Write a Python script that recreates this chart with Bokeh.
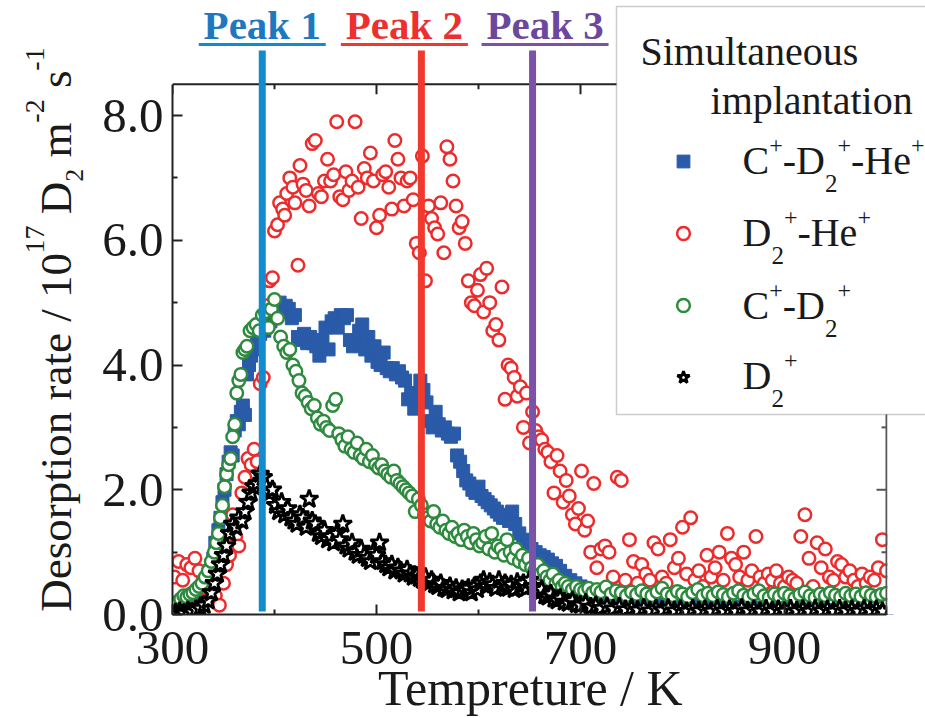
import math
from bokeh.plotting import figure
from bokeh.layouts import row
from bokeh.models import (FixedTicker, PrintfTickFormatter, Label, Range1d,
                          BoxAnnotation, Legend, LegendItem)
from bokeh.embed import file_html
from bokeh.resources import INLINE

# ---------------- data ----------------
# C+-D2+-He+ (blue squares)
T_A = [305, 310, 315, 320, 325, 330, 334, 337, 340, 342, 345, 347, 349, 351, 353, 355, 357, 359, 361, 363,
       365, 367, 369, 371, 373, 375, 377, 380, 383, 386, 390, 393, 396, 399, 402, 405, 408, 411, 414, 417,
       420, 423, 426, 429, 432, 435, 438, 441, 444, 447, 450, 453, 456, 459, 462, 465, 468, 471, 474, 477,
       480, 483, 486, 489, 492, 495, 498, 501, 504, 507, 510, 513, 516, 519, 522, 525, 528, 531, 534, 537,
       540, 543, 546, 549, 552, 555, 558, 561, 564, 567, 570, 573, 576, 579, 582, 585, 588, 591, 594, 597,
       600, 603, 606, 609, 612, 615, 618, 621, 624, 627, 630, 633, 636, 640, 644, 648, 652, 656, 660, 664,
       668, 672, 676, 680, 685, 690, 695, 700, 706, 712, 718, 724, 730, 738, 746, 754, 762, 770, 778, 786,
       794, 802, 810, 818, 826, 834, 842, 850, 858, 866, 874, 882, 890, 898, 906, 914, 922, 930, 938, 946,
       954, 962, 970, 978, 986, 994, 1000]
V_A = [0.05, 0.08, 0.06, 0.10, 0.12, 0.25, 0.45, 0.70, 0.90, 1.15, 1.35, 1.55, 1.80, 2.00, 2.25, 2.45, 2.60, 2.55, 2.95, 3.10,
       3.05, 3.25, 3.35, 3.20, 3.85, 4.00, 4.15, 4.25, 4.40, 4.50, 4.55, 4.65, 4.70, 4.80, 4.95, 5.00, 4.85, 4.95, 4.90, 4.75,
       4.80, 4.45, 4.40, 4.50, 4.35, 4.45, 4.35, 4.30, 4.15, 4.40, 4.60, 4.25, 4.70, 4.75, 4.60, 4.80, 4.75, 4.80, 4.40, 4.30,
       4.35, 4.55, 4.65, 4.25, 4.45, 4.15, 4.30, 4.05, 4.00, 4.20, 3.95, 3.90, 3.95, 3.85, 3.90, 3.80, 3.75, 3.45, 3.55, 3.30,
       3.40, 3.75, 3.60, 3.40, 3.10, 3.00, 3.25, 3.05, 2.95, 3.00, 2.90, 2.85, 2.90, 2.55, 2.45, 2.30, 2.15, 2.10, 2.00, 1.95,
       2.05, 1.90, 1.85, 1.80, 1.75, 1.70, 1.65, 1.60, 1.55, 1.55, 1.50, 1.65, 1.45, 1.30, 1.20, 1.10, 1.05, 1.00, 0.95, 0.92,
       0.88, 0.82, 0.78, 0.70, 0.62, 0.55, 0.50, 0.45, 0.40, 0.36, 0.32, 0.30, 0.28, 0.25, 0.24, 0.22, 0.20, 0.19, 0.18, 0.17,
       0.16, 0.15, 0.15, 0.14, 0.14, 0.13, 0.13, 0.12, 0.12, 0.11, 0.11, 0.10, 0.10, 0.10, 0.09, 0.09, 0.08, 0.08, 0.08, 0.07,
       0.07, 0.06, 0.06, 0.05, 0.05, 0.04, 0.03]

# D2+-He+ (red open circles)
T_B = [302, 306, 310, 314, 318, 322, 326, 330, 334, 338, 342, 346, 350, 353, 356, 359, 362, 365, 368, 371,
       374, 377, 380, 383, 386, 389, 392, 395, 398, 400, 403, 405, 408, 410, 412, 415, 418, 420, 423, 425,
       428, 431, 434, 437, 440, 443, 446, 449, 452, 455, 458, 461, 464, 467, 470, 473, 476, 479, 482, 485,
       488, 491, 494, 497, 500, 503, 506, 509, 512, 515, 518, 521, 524, 527, 530, 533, 536, 539, 542, 545,
       548, 551, 554, 557, 560, 563, 566, 569, 572, 575, 578, 581, 584, 587, 590, 593, 596, 599, 602, 605,
       608, 611, 614, 617, 620, 623, 626, 629, 632, 635, 638, 641, 644, 647, 650, 653, 656, 659, 662, 665,
       668, 671, 674, 677, 680, 683, 686, 689, 692, 695, 698, 701, 704, 707, 710, 713, 716, 720, 724, 728,
       732, 736, 740, 744, 748, 752, 756, 760, 764, 768, 772, 776, 780, 784, 788, 792, 796, 800, 804, 808,
       812, 816, 820, 824, 828, 832, 836, 840, 844, 848, 852, 856, 860, 864, 868, 872, 876, 880, 884, 888,
       892, 896, 900, 904, 908, 912, 916, 920, 924, 928, 932, 936, 940, 944, 948, 952, 956, 960, 964, 968,
       972, 976, 980, 984, 988, 992, 996, 1000]
V_B = [0.60, 0.85, 0.55, 0.80, 0.75, 0.90, 0.70, 0.55, 0.40, 0.35, 0.30, 0.15, 0.50, 0.80, 0.95, 1.60, 1.25, 1.10, 1.95, 2.20,
       2.50, 2.40, 2.65, 2.45, 3.70, 3.80, 4.95, 5.35, 5.40, 6.15, 6.25, 6.60, 6.50, 6.40, 6.75, 7.00, 6.85, 6.60, 5.60, 7.20,
       6.90, 6.80, 6.55, 7.55, 7.60, 6.75, 6.70, 6.95, 7.30, 6.95, 7.05, 7.90, 6.70, 6.65, 7.10, 6.80, 6.95, 7.90, 6.85, 6.35,
       7.15, 7.00, 7.40, 6.95, 6.20, 6.40, 7.05, 7.10, 6.85, 6.50, 7.60, 7.30, 7.00, 6.55, 6.95, 7.00, 6.65, 5.95, 5.80, 7.35,
       5.35, 6.55, 6.35, 6.20, 6.10, 6.60, 5.80, 7.50, 7.30, 6.95, 6.55, 6.20, 6.30, 5.95, 5.35, 5.00, 4.95, 5.20, 5.45, 4.85,
       5.55, 5.00, 4.55, 4.65, 4.40, 5.25, 3.45, 4.00, 3.95, 3.80, 3.50, 3.65, 3.00, 3.55, 2.75, 3.25, 2.95, 2.85, 2.80, 2.65,
       2.60, 2.45, 1.95, 2.55, 2.30, 1.80, 2.15, 1.90, 1.60, 1.45, 1.70, 2.30, 1.35, 1.50, 1.00, 2.10, 0.75, 1.05, 1.10, 1.00,
       0.60, 2.20, 2.15, 0.55, 1.20, 0.85, 0.50, 0.80, 0.65, 0.55, 1.15, 1.05, 0.60, 0.50, 1.20, 0.75, 0.90, 1.40, 0.65, 1.55,
       0.55, 0.70, 0.45, 0.95, 0.60, 0.75, 1.00, 0.55, 1.30, 0.90, 0.80, 0.60, 1.00, 0.55, 0.70, 1.25, 0.60, 0.50, 0.65, 0.55,
       0.70, 0.50, 0.45, 0.60, 0.55, 0.50, 1.25, 1.60, 0.90, 0.45, 1.15, 0.75, 1.05, 0.60, 0.55, 0.85, 0.80, 0.60, 0.70, 0.55,
       0.45, 0.65, 0.50, 0.60, 0.55, 0.75, 1.20, 0.70]

# C+-D2+ (green open circles)
T_C = [305, 308, 311, 314, 317, 320, 323, 326, 329, 332, 335, 338, 341, 343, 345, 347, 349, 351, 353, 355,
       357, 359, 361, 363, 365, 367, 369, 371, 373, 376, 379, 382, 385, 388, 391, 394, 397, 400, 403, 406,
       409, 412, 415, 418, 421, 424, 427, 430, 433, 436, 439, 442, 445, 448, 451, 454, 457, 460, 463, 466,
       469, 472, 475, 478, 481, 484, 487, 490, 493, 496, 499, 502, 505, 508, 511, 514, 517, 520, 523, 526,
       529, 532, 535, 538, 541, 544, 547, 550, 553, 556, 559, 562, 565, 568, 571, 574, 577, 580, 583, 586,
       589, 592, 595, 598, 601, 604, 607, 610, 613, 616, 619, 622, 625, 628, 631, 634, 637, 640, 643, 646,
       649, 652, 655, 658, 661, 664, 667, 670, 673, 676, 679, 682, 685, 688, 692, 696, 700, 704, 708, 712,
       716, 720, 725, 730, 735, 740, 745, 750, 755, 760, 765, 770, 775, 780, 785, 790, 795, 800, 805, 810,
       815, 820, 825, 830, 835, 840, 845, 850, 855, 860, 865, 870, 875, 880, 885, 890, 895, 900, 905, 910,
       915, 920, 925, 930, 935, 940, 945, 950, 955, 960, 965, 970, 975, 980, 985, 990, 995, 1000]
V_C = [0.20, 0.25, 0.30, 0.28, 0.32, 0.35, 0.40, 0.45, 0.50, 0.60, 0.70, 0.85, 1.00, 1.15, 1.30, 1.55, 1.75, 2.05, 2.25, 2.40,
       2.50, 2.85, 3.05, 3.55, 3.75, 3.85, 4.20, 4.25, 4.30, 4.55, 4.60, 4.65, 4.55, 4.80, 4.85, 4.60, 4.90, 5.05, 4.75, 4.45,
       4.30, 4.20, 4.25, 4.00, 3.90, 3.75, 3.55, 3.50, 3.40, 3.30, 3.35, 3.15, 3.05, 3.10, 3.00, 2.95, 3.35, 3.45, 2.90, 2.80,
       2.70, 2.85, 2.65, 2.60, 2.75, 2.55, 2.50, 2.65, 2.45, 2.55, 2.40, 2.35, 2.40, 2.30, 2.25, 2.20, 2.30, 2.15, 2.10, 2.05,
       2.00, 1.95, 1.90, 1.65, 1.85, 1.75, 1.60, 1.55, 1.50, 1.65, 1.45, 1.40, 1.50, 1.35, 1.30, 1.40, 1.25, 1.30, 1.20, 1.35,
       1.25, 1.15, 1.30, 1.20, 1.10, 1.15, 1.25, 1.05, 1.30, 1.00, 1.10, 1.05, 0.95, 1.20, 1.00, 0.90, 1.05, 0.85, 0.95, 0.80,
       0.90, 0.75, 0.70, 0.80, 0.65, 0.70, 0.60, 0.55, 0.65, 0.50, 0.55, 0.45, 0.50, 0.45, 0.40, 0.45, 0.40, 0.38, 0.42, 0.35,
       0.40, 0.36, 0.44, 0.33, 0.38, 0.35, 0.30, 0.36, 0.32, 0.38, 0.33, 0.30, 0.36, 0.42, 0.33, 0.30, 0.37, 0.33, 0.28, 0.35,
       0.40, 0.30, 0.34, 0.30, 0.36, 0.32, 0.28, 0.34, 0.38, 0.31, 0.28, 0.33, 0.38, 0.30, 0.27, 0.33, 0.29, 0.34, 0.30, 0.26,
       0.32, 0.36, 0.30, 0.27, 0.33, 0.30, 0.35, 0.31, 0.28, 0.34, 0.30, 0.33, 0.29, 0.35, 0.31, 0.28, 0.32, 0.34]

# D2+ (black stars)
T_D = [303, 307, 311, 315, 319, 323, 327, 331, 335, 338, 341, 344, 347, 350, 353, 356, 359, 362, 365, 368,
       371, 374, 377, 380, 383, 386, 389, 392, 395, 398, 401, 404, 407, 410, 413, 416, 419, 422, 425, 428,
       431, 434, 437, 440, 443, 446, 449, 452, 455, 458, 461, 464, 467, 470, 473, 476, 479, 482, 485, 488,
       491, 494, 497, 500, 503, 506, 509, 512, 515, 518, 521, 524, 527, 530, 533, 536, 539, 542, 545, 548,
       551, 554, 557, 560, 563, 566, 569, 572, 575, 578, 581, 584, 587, 590, 593, 596, 599, 602, 605, 608,
       611, 614, 617, 620, 623, 626, 629, 632, 635, 638, 641, 644, 647, 650, 653, 656, 659, 662, 665, 668,
       671, 674, 677, 680, 684, 688, 692, 696, 700, 705, 710, 715, 720, 726, 732, 738, 744, 750, 756, 762,
       768, 774, 780, 786, 792, 798, 804, 810, 816, 822, 828, 834, 840, 846, 852, 858, 864, 870, 876, 882,
       888, 894, 900, 906, 912, 918, 924, 930, 936, 942, 948, 954, 960, 966, 972, 978, 984, 990, 996]
V_D = [0.03, 0.05, 0.02, 0.06, 0.04, 0.08, 0.10, 0.15, 0.22, 0.35, 0.50, 0.65, 0.80, 0.95, 1.10, 1.30, 1.45, 1.40, 1.55, 1.50,
       1.65, 1.80, 1.95, 2.05, 2.10, 2.25, 2.20, 2.05, 1.95, 2.00, 1.75, 1.65, 1.80, 1.60, 1.70, 1.55, 1.50, 1.45, 1.60, 1.55,
       1.40, 1.85, 1.50, 1.45, 1.30, 1.25, 1.35, 1.20, 1.25, 1.15, 1.30, 1.20, 1.45, 1.10, 1.05, 1.15, 1.00, 0.95, 1.05, 0.95,
       0.90, 0.85, 1.00, 0.95, 1.15, 0.85, 0.80, 0.75, 0.80, 0.70, 0.75, 0.70, 0.65, 0.72, 0.65, 0.60, 0.62, 0.58, 0.55, 0.60,
       0.50, 0.55, 0.48, 0.45, 0.50, 0.42, 0.40, 0.45, 0.38, 0.42, 0.35, 0.40, 0.38, 0.42, 0.35, 0.45, 0.40, 0.50, 0.55, 0.45,
       0.52, 0.48, 0.42, 0.55, 0.45, 0.50, 0.42, 0.48, 0.40, 0.52, 0.45, 0.50, 0.42, 0.55, 0.45, 0.38, 0.35, 0.40, 0.30, 0.28,
       0.33, 0.25, 0.22, 0.26, 0.20, 0.18, 0.22, 0.16, 0.15, 0.18, 0.12, 0.14, 0.10, 0.13, 0.09, 0.12, 0.08, 0.10, 0.07, 0.10,
       0.06, 0.09, 0.07, 0.10, 0.06, 0.08, 0.05, 0.09, 0.06, 0.08, 0.05, 0.09, 0.06, 0.08, 0.05, 0.10, 0.06, 0.08, 0.05, 0.09,
       0.06, 0.08, 0.05, 0.09, 0.06, 0.08, 0.05, 0.09, 0.06, 0.08, 0.05, 0.09, 0.06, 0.08, 0.05, 0.09, 0.06, 0.08, 0.05]

PEAK_T = [388, 544, 653]
PEAK_NAMES = ["Peak 1", "Peak 2", "Peak 3"]
X_MAJOR = [300, 500, 700, 900]
X_MINOR = [400, 600, 800, 1000]
Y_MAJOR = [0, 2, 4, 6, 8]
Y_MINOR = [1, 3, 5, 7]

# ---------------- styling / layout constants ----------------
FONT = "Liberation Serif"
INK = "#1a1a1a"
FRAME = "#222222"
C_BLUE = "#2a5ba8"
C_RED = "#ec2c2c"
C_GREEN = "#2e8a3e"
PEAK_LINE_COLORS = ["#128bcf", "#ef3a2d", "#7a52a7"]
PEAK_TEXT_COLORS = ["#1e78c0", "#ee2f2f", "#6b479d"]
PEAK_TEXT_OFFSETS = [0, -17, 12.5]   # px, label centre relative to its line

W, H = 925, 718
LW = 90                                # width of the strip holding the y title
X0, X1, Y0, Y1 = 300, 1000, 0.0, 8.5   # axis limits
FL, FR, FT, FB = 172, 886, 84, 615     # axis box in page pixels
XS = (FR - FL) / (X1 - X0)
YS = (FB - FT) / (Y1 - Y0)
X_END = X1 + (W - FR) / XS             # plot area runs on to the page edge
Y_END = Y1 + FT / YS                   # ... and up to the page top
MID = 0.34                             # text middle above baseline, in em
NBSP = "\u00a0"


def yd(cy):
    return Y0 + (FB - cy) / YS


def sx(cx):
    return cx - FL


def sy(cy):
    return FB - cy


TW = {'D': 722, 'e': 444, 's': 389, 'o': 500, 'r': 333, 'p': 500, 't': 278, 'i': 278, 'n': 500,
      ' ': 250, 'a': 444, '/': 278, '1': 500, '0': 500, '7': 500, 'm': 778, '-': 333, '2': 500,
      'C': 667, '+': 564, 'H': 722, 'S': 556, 'u': 500, 'l': 278, 'T': 611, 'K': 722}


def text_w(t, size):
    return sum(TW.get(ch, 500) for ch in t) * size / 1000.0


# ---------------- main plot ----------------
p = figure(width=W - LW, height=H, x_range=Range1d(X0, X_END), y_range=Range1d(Y0, Y_END),
           output_backend="svg", toolbar_location=None,
           min_border_left=FL - LW, min_border_right=0, min_border_top=0, min_border_bottom=H - FB)
p.outline_line_color = None
p.background_fill_color = "white"
p.border_fill_color = "white"
p.grid.grid_line_color = None

for ax, ticks, minor, bounds in ((p.xaxis[0], X_MAJOR, X_MINOR, (X0, X1)),
                                 (p.yaxis[0], Y_MAJOR, Y_MINOR, (Y0, Y1))):
    ax.ticker = FixedTicker(ticks=ticks, minor_ticks=minor)
    ax.bounds = bounds
    ax.axis_line_width = 2
    ax.axis_line_color = FRAME
    ax.major_tick_in = 10
    ax.major_tick_out = 0
    ax.minor_tick_in = 5
    ax.minor_tick_out = 0
    ax.major_tick_line_width = 2
    ax.minor_tick_line_width = 2
    ax.major_tick_line_color = FRAME
    ax.minor_tick_line_color = FRAME
    ax.major_label_text_font = FONT
    ax.major_label_text_font_size = "49px"
    ax.major_label_text_color = INK

p.yaxis[0].formatter = PrintfTickFormatter(format="%.1f")
p.yaxis[0].major_label_standoff = 9
xa = p.xaxis[0]
xa.major_label_standoff = 17
# the title is centred on the whole plot area (which runs on under the legend), so
# trailing no-break spaces pull it back over the centre of the axis box
xa.axis_label = "Tempreture / K" + NBSP * 3
xa.axis_label_text_font = FONT
xa.axis_label_text_font_size = "50px"
xa.axis_label_text_font_style = "normal"
xa.axis_label_text_color = INK
xa.axis_label_standoff = -7

# data
rb = p.scatter(T_A, V_A, marker="square", size=13, fill_color=C_BLUE, line_color=C_BLUE, line_width=1)
rr = p.scatter(T_B, V_B, marker="circle", size=12.5, fill_color="white", line_color=C_RED, line_width=2.5)
rg = p.scatter(T_C, V_C, marker="circle", size=12.5, fill_color="white", line_color=C_GREEN, line_width=2.5)
rs = p.scatter(T_D, V_D, marker="star", size=19, fill_color="white", line_color="black", line_width=2.8)

# top and right edges of the axis box, with inward ticks
p.segment(x0=[X0], y0=[Y1], x1=[X1], y1=[Y1], line_color=FRAME, line_width=2)
p.segment(x0=[X1], y0=[Y0], x1=[X1], y1=[Y1], line_color="#555555", line_width=2)
p.segment(x0=X_MAJOR, y0=[Y1] * len(X_MAJOR), x1=X_MAJOR, y1=[Y1 - 10 / YS] * len(X_MAJOR),
          line_color=FRAME, line_width=2)
p.segment(x0=X_MINOR, y0=[Y1] * len(X_MINOR), x1=X_MINOR, y1=[Y1 - 5 / YS] * len(X_MINOR),
          line_color=FRAME, line_width=2)
p.segment(x0=[X1] * len(Y_MAJOR), y0=Y_MAJOR, x1=[X1 - 10 / XS] * len(Y_MAJOR), y1=Y_MAJOR,
          line_color="#555555", line_width=2)
p.segment(x0=[X1] * len(Y_MINOR), y0=Y_MINOR, x1=[X1 - 5 / XS] * len(Y_MINOR), y1=Y_MINOR,
          line_color="#555555", line_width=2)

# peak marker lines, labels and underlines
p.segment(x0=PEAK_T, y0=[yd(612)] * 3, x1=PEAK_T, y1=[yd(50)] * 3,
          line_color=PEAK_LINE_COLORS, line_width=7)
p.segment(x0=[t + (o - 63.5) / XS for t, o in zip(PEAK_T, PEAK_TEXT_OFFSETS)], y0=[yd(44)] * 3,
          x1=[t + (o + 63.5) / XS for t, o in zip(PEAK_T, PEAK_TEXT_OFFSETS)], y1=[yd(44)] * 3,
          line_color=PEAK_LINE_COLORS, line_width=3)
PEAK_FS = 41
PEAK_BASE = 39
for T, name, tc, off in zip(PEAK_T, PEAK_NAMES, PEAK_TEXT_COLORS, PEAK_TEXT_OFFSETS):
    p.add_layout(Label(x=T, x_units="data", y=sy(PEAK_BASE - MID * PEAK_FS), y_units="screen",
                       x_offset=off, text=name, text_font=FONT, text_font_style="bold",
                       text_font_size=f"{PEAK_FS}px", text_color=tc,
                       text_align="center", text_baseline="middle"))

# keep markers from spilling past the right edge of the axis box
p.add_layout(BoxAnnotation(left=X1 + 1.0 / XS, right=X_END, bottom=Y0, top=yd(415),
                           fill_color="white", fill_alpha=1.0, line_color=None))

# legend box
p.add_layout(BoxAnnotation(left=sx(616), right=sx(940), top=sy(7), bottom=sy(415),
                           left_units="screen", right_units="screen",
                           top_units="screen", bottom_units="screen",
                           fill_color="white", fill_alpha=1.0,
                           line_color="#555555", line_width=1.5))

legend = Legend(items=[LegendItem(label="", renderers=[r]) for r in (rb, rr, rg, rs)],
                location=(sx(667), sy(394)), orientation="vertical",
                glyph_width=32, glyph_height=32, label_width=0, label_height=32,
                label_standoff=0, spacing=40, padding=0, margin=0,
                border_line_color=None, background_fill_alpha=0,
                label_text_font_size="10px")
p.add_layout(legend)


def h_pieces(pieces, cx0, cy_base):
    """pieces: (gap_before_px, text, size, baseline_shift_up_px)"""
    cx = cx0
    for gap, txt, size, shift in pieces:
        cx += gap
        w = text_w(txt, size)
        p.add_layout(Label(x=sx(cx + w / 2), y=sy(cy_base - shift - MID * size),
                           x_units="screen", y_units="screen",
                           text=txt, text_font=FONT, text_font_size=f"{size}px", text_color=INK,
                           text_align="center", text_baseline="middle"))
        cx += w


SUP, SUB = 21, -17
h_pieces([(0, "Simultaneous", 40, 0)], 640, 66)
h_pieces([(0, "implantation", 40, 0)], 710, 115)
h_pieces([(0, "C", 40, 0), (0, "+", 24, SUP), (0, "-D", 40, 0), (0, "2", 25, SUB), (0, "+", 24, SUP),
          (0, "-He", 40, 0), (0, "+", 24, SUP)], 742, 175)
h_pieces([(0, "D", 40, 0), (0, "2", 25, SUB), (0, "+", 24, SUP), (0, "-He", 40, 0), (0, "+", 24, SUP)],
         742, 247)
h_pieces([(0, "C", 40, 0), (0, "+", 24, SUP), (0, "-D", 40, 0), (0, "2", 25, SUB), (0, "+", 24, SUP)],
         742, 320)
h_pieces([(0, "D", 40, 0), (0, "2", 25, SUB), (0, "+", 24, SUP)], 742, 390)

# ---------------- y-axis title strip ----------------
# its plot area is aligned with the main one (page rows 0..FB), so data y == page y there
q = figure(width=LW, height=H, x_range=Range1d(0, LW), y_range=Range1d(FB, 0),
           output_backend="svg", toolbar_location=None,
           x_axis_location=None, y_axis_location=None,
           min_border_left=0, min_border_right=0, min_border_top=0, min_border_bottom=H - FB)
q.outline_line_color = None
q.grid.grid_line_color = None
q.background_fill_color = "white"
q.border_fill_color = "white"


def v_pieces(pieces, cy0, cx_base):
    """text reads bottom-to-top; shift moves a piece's baseline to the left (upwards for the text)"""
    cy = cy0
    for gap, txt, size, shift in pieces:
        cy -= gap
        w = text_w(txt, size)
        q.add_layout(Label(x=cx_base - shift - MID * size, y=cy - w / 2, text=txt, angle=math.pi / 2,
                           text_font=FONT, text_font_size=f"{size}px", text_color=INK,
                           text_align="center", text_baseline="middle"))
        cy -= w


SP = text_w(" ", 45)
v_pieces([(0, "Desorption rate / 10", 45, 0), (0, "17", 28, 27), (SP, "D", 45, 0), (0, "2", 26, -12),
          (SP, "m", 45, 0), (0, "-2", 28, 27), (SP, "s", 45, 0), (0, "-1", 28, 27)], 612, 71)

layout = row(q, p)
open("out.html", "w").write(file_html(layout, INLINE))
